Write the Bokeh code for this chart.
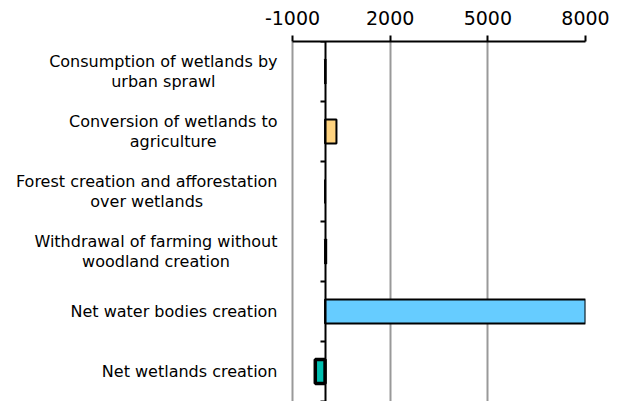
from bokeh.plotting import figure
from bokeh.models import ColumnDataSource, FixedTicker, LinearAxis, Range1d, Label
from bokeh.embed import file_html
from bokeh.resources import INLINE

categories = [
    "Consumption of wetlands by\nurban sprawl",
    "Conversion of wetlands to\nagriculture",
    "Forest creation and afforestation\nover wetlands",
    "Withdrawal of farming without\nwoodland creation",
    "Net water bodies creation",
    "Net wetlands creation",
]
values = [15, 350, 0, 35, 8000, -300]
x_ticks = [-1000, 2000, 5000, 8000]

colors = ["#808080", "#FFD37F", "#33CC66", "#A0A0A0", "#66CCFF", "#00BFB0"]
borders = [2, 2, 2, 2, 2, 3.5]

n = len(categories)
ypos = [n - i - 0.5 for i in range(n)]

src = ColumnDataSource(dict(y=ypos, right=values, color=colors, lw=borders))

FONT = "DejaVu Sans"
X_MIN, X_MAX = x_ticks[0], x_ticks[-1]

# layout: frame spans from the canvas' left edge so the category labels
# (drawn as annotations) sit inside it; the value axis starts at LEFT_PX.
W, H = 619, 401
RIGHT_BORDER, TOP_BORDER = 34, 41
FRAME_W = W - RIGHT_BORDER
LEFT_PX = 292
range_start = (X_MIN * FRAME_W - X_MAX * LEFT_PX) / (FRAME_W - LEFT_PX)

p = figure(width=W, height=H, output_backend="svg", toolbar_location=None,
           x_range=Range1d(range_start, X_MAX), y_range=Range1d(0, n),
           x_axis_location=None, y_axis_location=None,
           min_border_left=0, min_border_right=RIGHT_BORDER,
           min_border_top=TOP_BORDER, min_border_bottom=0)
p.outline_line_color = None
p.background_fill_color = "white"
p.border_fill_color = "white"

p.hbar(y="y", left=0, right="right", height=0.4, fill_color="color",
       line_color="black", line_width="lw", source=src)

# top value axis, restricted to the value span
xa = LinearAxis(ticker=FixedTicker(ticks=x_ticks), bounds=(X_MIN, X_MAX))
xa.major_label_overrides = {t: str(t) for t in x_ticks}
xa.axis_line_width = 2
xa.axis_line_color = "black"
xa.major_tick_line_width = 2
xa.major_tick_out = 6
xa.major_tick_in = 0
xa.minor_tick_line_color = None
xa.major_label_text_font = FONT
xa.major_label_text_font_size = "19px"
xa.major_label_text_color = "black"
xa.major_label_standoff = 11
p.add_layout(xa, "above")

p.xgrid.ticker = FixedTicker(ticks=x_ticks)
p.xgrid.grid_line_color = "#999999"
p.xgrid.grid_line_width = 2
p.ygrid.grid_line_color = None

# category labels: block right-aligned, lines centred
for y, c in zip(ypos, categories):
    p.add_layout(Label(x=X_MIN, y=y, x_offset=-15, text=c, anchor="center_right",
                       text_align="center", text_font=FONT, text_font_size="16px",
                       text_color="black", text_line_height=1.05))

# zero axis with boundary ticks (ticks pointing left)
za = LinearAxis(fixed_location=0, ticker=FixedTicker(ticks=list(range(n + 1))))
za.major_label_overrides = {i: "" for i in range(n + 1)}
za.axis_line_width = 2
za.axis_line_color = "black"
za.major_tick_line_width = 2
za.major_tick_out = 0
za.major_tick_in = 5
za.minor_tick_line_color = None
za.major_label_standoff = 0
p.add_layout(za, "right")

open("out.html", "w").write(file_html(p, INLINE))
